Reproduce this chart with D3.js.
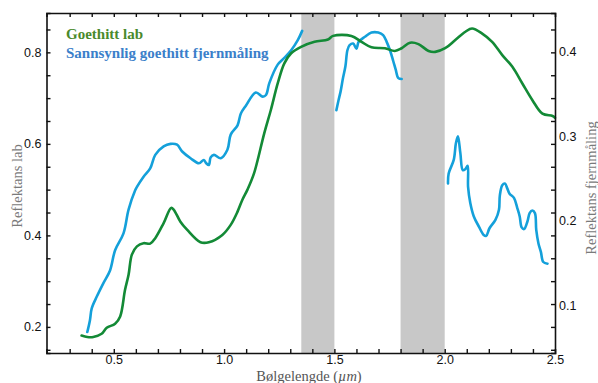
<!DOCTYPE html>
<html><head><meta charset="utf-8">
<script src="https://cdn.jsdelivr.net/npm/d3@7"></script>
<style>
body{margin:0;background:#fff;}
svg{display:block;}
.tick text{font-family:"Liberation Sans",Arial,sans-serif;font-size:12.5px;fill:#111;}
.domain{stroke:#111;stroke-width:1.6;}
.tick line{stroke:#111;stroke-width:1.4;}
</style></head>
<body>
<svg id="c" width="598" height="383"></svg>
<script>
// Wavelength (µm) and reflectance, lab goethite (left axis)
const labWavelength = [0.354,0.38,0.407,0.445,0.468,0.506,0.529,0.551,0.567,0.582,0.605,0.635,0.665,0.688,0.726,0.760,0.772,0.802,0.833,0.893,0.931,0.992,1.030,1.061,1.083,1.106,1.136,1.182,1.212,1.243,1.273,1.304,1.349,1.410,1.471,1.494,1.577,1.623,1.668,1.729,1.774,1.805,1.843,1.881,1.927,1.957,2.002,2.048,2.094,2.124,2.170,2.215,2.261,2.306,2.352,2.397,2.443,2.489,2.5];
const labReflectance = [0.181,0.178,0.178,0.185,0.198,0.207,0.223,0.281,0.314,0.358,0.376,0.383,0.382,0.394,0.427,0.460,0.456,0.430,0.412,0.385,0.385,0.401,0.423,0.452,0.478,0.500,0.536,0.623,0.674,0.732,0.776,0.798,0.812,0.823,0.828,0.836,0.836,0.823,0.811,0.809,0.803,0.809,0.821,0.818,0.803,0.801,0.809,0.827,0.845,0.852,0.841,0.823,0.794,0.769,0.732,0.696,0.666,0.661,0.657];

// Remote sensing (right axis), null = gap (water absorption bands)
const remoteWavelength = [0.380,0.392,0.400,0.423,0.453,0.483,0.506,0.544,0.567,0.597,0.605,0.635,0.665,0.688,0.726,0.757,0.787,0.810,0.848,0.886,0.908,0.919,0.931,0.939,0.954,0.985,1.015,1.030,1.061,1.076,1.098,1.144,1.175,1.190,1.205,1.243,1.273,1.304,1.334,1.354,
 1.43,
 1.509,1.519,1.528,1.539,1.550,1.559,1.569,1.585,1.600,1.610,1.638,1.668,1.699,1.721,1.737,1.752,1.767,1.778,1.790,1.805,
 1.9,
 2.015,2.018,2.041,2.051,2.060,2.071,2.082,2.093,2.104,2.106,2.116,2.132,2.155,2.177,2.188,2.203,2.230,2.246,2.250,2.261,2.273,2.284,2.294,2.314,2.329,2.340,2.349,2.360,2.375,2.385,2.397,2.409,2.415,2.425,2.436,2.447,2.466];
const remoteReflectance = [0.068,0.082,0.096,0.110,0.126,0.141,0.165,0.185,0.213,0.236,0.240,0.252,0.262,0.278,0.288,0.291,0.290,0.282,0.274,0.268,0.272,0.268,0.266,0.275,0.278,0.274,0.284,0.302,0.313,0.327,0.336,0.352,0.347,0.349,0.363,0.385,0.393,0.402,0.414,0.425,
 null,
 0.331,0.343,0.353,0.369,0.383,0.402,0.408,0.410,0.404,0.412,0.418,0.423,0.423,0.420,0.412,0.402,0.389,0.379,0.369,0.368,
 null,
 0.244,0.256,0.272,0.292,0.300,0.280,0.260,0.261,0.265,0.240,0.221,0.205,0.193,0.183,0.182,0.191,0.201,0.213,0.230,0.242,0.244,0.238,0.232,0.227,0.215,0.205,0.192,0.190,0.199,0.209,0.212,0.209,0.189,0.173,0.163,0.151,0.149];

const bandStart = [1.35, 1.80];
const bandEnd = [1.50, 2.00];

const xTickMajor = [0.5, 1.0, 1.5, 2.0, 2.5];
const leftTickMajor = [0.2, 0.4, 0.6, 0.8];
const rightTickLabels = [0.1, 0.2, 0.3, 0.4];

const labLegend = "Goethitt lab";
const remoteLegend = "Sannsynlig goethitt fjernmåling";

const W = 598, H = 383;
const L = 46.5, R = 555, T = 13, B = 353;
const svg = d3.select("#c");

const x = d3.scaleLinear().domain([0.195, 2.5]).range([L, R]);
const yL = d3.scaleLinear().domain([0.143, 0.886]).range([B, T]);
const yR = d3.scaleLinear().domain([0.0431, 0.4462]).range([B, T]);

// bands
svg.append("g").selectAll("rect").data(bandStart).join("rect")
  .attr("x", (d) => x(d))
  .attr("width", (d, i) => x(bandEnd[i]) - x(d))
  .attr("y", T).attr("height", B - T)
  .attr("fill", "#c8c8c8");

// lines
const labData = labWavelength.map((w, i) => [w, labReflectance[i]]);
const remoteData = remoteWavelength.map((w, i) => [w, remoteReflectance[i]]);

svg.append("path").datum(remoteData)
  .attr("fill", "none").attr("stroke", "#14a0da").attr("stroke-width", 2.6)
  .attr("stroke-linejoin", "round").attr("stroke-linecap", "round")
  .attr("d", d3.line().defined(d => d[1] !== null).x(d => x(d[0])).y(d => yR(d[1])).curve(d3.curveCatmullRom));

svg.append("path").datum(labData)
  .attr("fill", "none").attr("stroke", "#138a36").attr("stroke-width", 2.6)
  .attr("stroke-linejoin", "round").attr("stroke-linecap", "round")
  .attr("d", d3.line().x(d => x(d[0])).y(d => yL(d[1])).curve(d3.curveCatmullRom));

// axes
const xMinor = d3.range(3, 25).map(d => d / 10);
const yMinor = d3.range(3, 18).map(d => d / 20);

svg.append("g").attr("transform", `translate(0,${B})`)
  .call(d3.axisBottom(x).tickValues(xMinor).tickSize(-4).tickFormat(""));
svg.append("g").attr("transform", `translate(0,${B})`)
  .call(d3.axisBottom(x).tickValues(xTickMajor).tickSize(0).tickPadding(2.5).tickFormat(d3.format(".1f")))
  .call(g => g.select(".domain").remove());
svg.append("g").attr("transform", `translate(0,${T})`)
  .call(d3.axisTop(x).tickValues(xMinor).tickSize(-4).tickFormat(""));

svg.append("g").attr("transform", `translate(${L},0)`)
  .call(d3.axisLeft(yL).tickValues(yMinor).tickSize(-4).tickFormat(""));
svg.append("g").attr("transform", `translate(${L},0)`)
  .call(d3.axisLeft(yL).tickValues(leftTickMajor).tickSize(0).tickPadding(5).tickFormat(d3.format(".1f")))
  .call(g => g.select(".domain").remove());

svg.append("g").attr("transform", `translate(${R},0)`)
  .call(d3.axisRight(yL).tickValues(yMinor).tickSize(-4).tickFormat(""));
svg.append("g").attr("transform", `translate(${R},0)`)
  .call(d3.axisRight(yR).tickValues(rightTickLabels).tickSize(0).tickPadding(4).tickFormat(d3.format(".1f")))
  .call(g => g.select(".domain").remove());

// legend
svg.append("text").attr("x", 66).attr("y", 39)
  .attr("font-family", "'Liberation Serif', serif").attr("font-weight", "bold").attr("font-size", 15)
  .attr("fill", "#4a8a2c").text(labLegend);
svg.append("text").attr("x", 66).attr("y", 58)
  .attr("font-family", "'Liberation Serif', serif").attr("font-weight", "bold").attr("font-size", 15)
  .attr("fill", "#3b7fca").text(remoteLegend);

// axis titles
svg.append("text").attr("transform", "translate(22,186) rotate(-90)")
  .attr("text-anchor", "middle").attr("font-family", "'Liberation Serif', serif").attr("font-size", 14.5)
  .attr("fill", "#7a7a7a").text("Reflektans lab");
svg.append("text").attr("transform", "translate(596,188) rotate(-90)")
  .attr("text-anchor", "middle").attr("font-family", "'Liberation Serif', serif").attr("font-size", 14.5)
  .attr("fill", "#7a7a7a").text("Reflektans fjernmåling");
const xt = svg.append("text").attr("x", 309).attr("y", 380.5)
  .attr("text-anchor", "middle").attr("font-family", "'Liberation Serif', serif").attr("font-size", 14.5)
  .attr("fill", "#555");
xt.append("tspan").text("Bølgelengde (");
xt.append("tspan").attr("font-style", "italic").text("µm");
xt.append("tspan").text(")");
</script>
</body></html>
